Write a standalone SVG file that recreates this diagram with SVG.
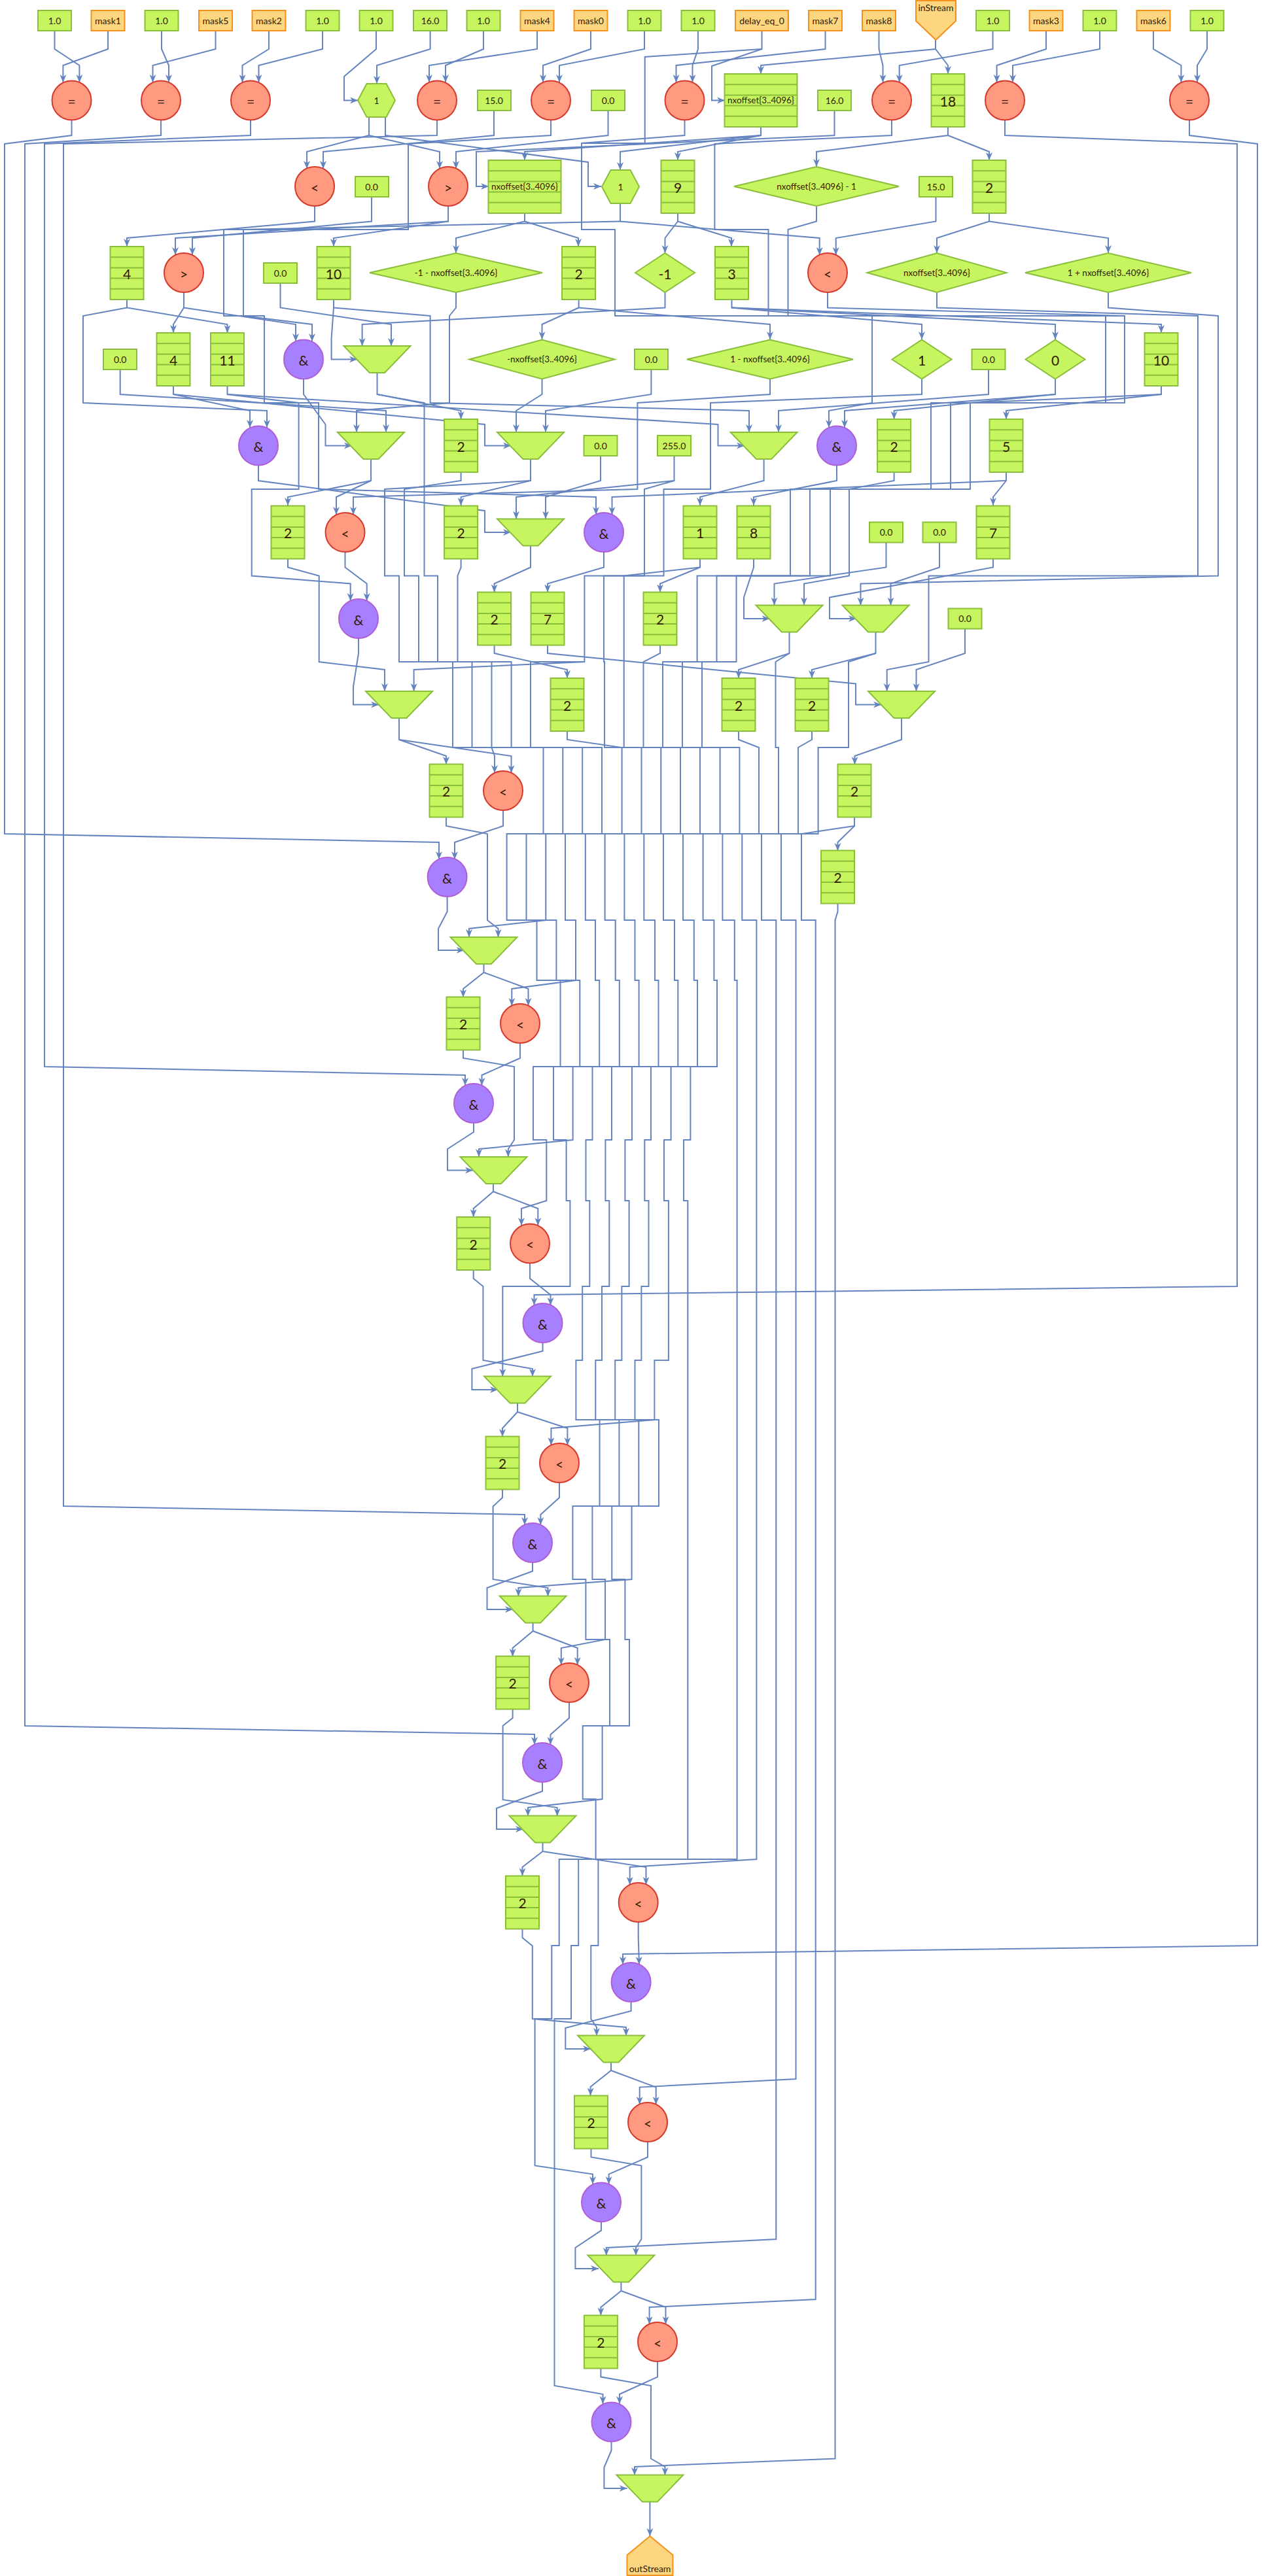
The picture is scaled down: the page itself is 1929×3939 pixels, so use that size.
<svg xmlns="http://www.w3.org/2000/svg" xmlns:xlink="http://www.w3.org/1999/xlink" width="1929" height="3939" viewBox="0 0 1929 3939">
<style>
.g{fill:#c7f55f;stroke:#8abd3c;stroke-width:2}
.o{fill:#ffd680;stroke:#f2911d;stroke-width:2}
.r{fill:#ff9a80;stroke:#d6392b;stroke-width:2}
.p{fill:#a680ff;stroke:#b05ed6;stroke-width:2}
.gl{fill:none;stroke:#8abd3c;stroke-width:2}
.e,.l{fill:none;stroke:#6484c0;stroke-width:2;stroke-linejoin:miter}
.e{marker-end:url(#a)}
text{font-family:"Lato","Liberation Sans",sans-serif;fill:#331a00;text-anchor:middle;dominant-baseline:central}
.s{font-size:14px}
.m{font-size:13.5px}
.b{font-size:21px}
.c{font-size:21px}
</style>
<defs>
<marker id="a" markerUnits="userSpaceOnUse" markerWidth="14" markerHeight="12" refX="12" refY="6" orient="auto"><path d="M0 1L12 6 0 11 3.5 6z" fill="#6484c0"/></marker>
<g id="tbl"><rect class="g" x="-25.5" y="-40.5" width="51" height="81"/><path class="gl" d="M-25.5-24.3h51M-25.5-8.1h51M-25.5 8.1h51M-25.5 24.3h51"/></g>
<g id="tblw"><rect class="g" x="-55.5" y="-40.5" width="111" height="81"/><path class="gl" d="M-55.5-24.3h111M-55.5-8.1h111M-55.5 8.1h111M-55.5 24.3h111"/></g>
<polygon id="mux" class="g" points="-51,-20.5 51,-20.5 11.5,20.5 -11.5,20.5"/>
<polygon id="hex" class="g" points="-28.5,0 -15,-25.5 15,-25.5 28.5,0 15,25.5 -15,25.5"/>
</defs>
<g id="connectors">
<path class="e" d="M83.5 47V75L121.4 100V126"/>
<path class="e" d="M165 47V75L96.4 100V126"/>
<path class="e" d="M247 47V75L258 100V126"/>
<path class="e" d="M329.5 47V75L233.5 100V126"/>
<path class="e" d="M411 47V75L370.5 100V126"/>
<path class="e" d="M493 47V75L395.5 100V126"/>
<path class="e" d="M575 47V75L526 117V153.5H547"/>
<path class="e" d="M657.6 47V75L576 100V128"/>
<path class="e" d="M739 47V75L681 100V126"/>
<path class="e" d="M821 47V75L656 100V126"/>
<path class="e" d="M903 47V75L830 100V126"/>
<path class="e" d="M985 47V75L855 100V126"/>
<path class="e" d="M1067 47V75L1058.5 100V126"/>
<path class="e" d="M1164.5 47V75L1088 101V153.5H1108"/>
<path class="l" d="M1164.5 75L985.7 87V219L889 219"/>
<path class="e" d="M1261.5 47V75L1033.5 100V126"/>
<path class="e" d="M1343.5 47V75L1349.5 100V126"/>
<path class="e" d="M1430 61V75L1163 100V113"/>
<path class="e" d="M1430 75L1449 100V113"/>
<path class="e" d="M1517.5 47V75L1374.7 100V126"/>
<path class="e" d="M1599 47V75L1523.6 100V126"/>
<path class="e" d="M1681 47V75L1548 100V126"/>
<path class="e" d="M1763 47V75L1805.4 100V126"/>
<path class="e" d="M1845 47V75L1830 100V126"/>
<path class="e" d="M109.5 184V207L7 220V1275L671 1288V1314"/>
<path class="e" d="M246 184V207L38 220V2639L817 2652V2668"/>
<path class="e" d="M383 184V207L68 220V1631L711 1644V1660"/>
<path class="e" d="M668 184V207L97 220V2303L802 2316V2332"/>
<path class="e" d="M842 184V207L624 220V351H342V483H404V616H487V748L911 760V787"/>
<path class="e" d="M1046.5 184V207L889 219V351H940V483H1333V616L1267 628V654"/>
<path class="e" d="M1363 184V207L1092.4 220V351H1174.5V483H1690V616H1423V748H1208V880.5H1065.6V1012H1013V1143H1070V1275H1014V1407H1031V1499H1036.3V1631H995V1743H985.3V1836H991.5V1967H980.4V2080H970.5V2171H1007V2303H965.6V2415L792.4 2428V2441"/>
<path class="e" d="M1248 315V338.5L1204.5 351V483H1719V616H1453V748H1238V880.5H1095.5V1012H1043V1143H1100.6V1275H1044V1407H1060.8V1499H1066V1631H1025.6V1743H1015V1836H1021.9V2080H1000.4V2171L842.4 2184V2210"/>
<path class="e" d="M1536 184V207L1891 220V1967L816.5 1980V1996"/>
<path class="e" d="M1818 184V207L1922 220V2975L952 2988V3004"/>
<path class="e" d="M755 169V207L494 232V258"/>
<path class="e" d="M564 179V207L469 232V258"/>
<path class="e" d="M564 207L672 232V258"/>
<path class="e" d="M589 179V207L899 248V285H919"/>
<path class="e" d="M929.5 169V207L697 232V258"/>
<path class="e" d="M1163 194V207L802 232V245"/>
<path class="e" d="M1163 207L948 232V260"/>
<path class="e" d="M1163 207L1036 232V245"/>
<path class="e" d="M1275.5 169V207L728 232V285H747"/>
<path class="e" d="M1449 194V207L1248 232V255"/>
<path class="e" d="M1449 207L1512 232V245"/>
<path class="e" d="M481 315V338.5L194 364V377"/>
<path class="e" d="M568 300.5V338.5L294 364V390"/>
<path class="e" d="M685 315V338.5L268 364V390"/>
<path class="e" d="M685 338.5L510 364V377"/>
<path class="e" d="M802 326V338.5L697 364V387"/>
<path class="e" d="M802 338.5L884 364V377"/>
<path class="e" d="M948 311V338.5L1252.7 364V390"/>
<path class="e" d="M948 338.5L372 351V483L477 496V522"/>
<path class="e" d="M1036 326V338.5L1016.5 364V387"/>
<path class="e" d="M1036 338.5L1118 364V377"/>
<path class="e" d="M1430.5 300.5V338.5L1277.7 364V390"/>
<path class="e" d="M1512 326V338.5L1432 364V387"/>
<path class="e" d="M1512 338.5L1694 364V387"/>
<path class="e" d="M194 458V470.5L347.5 496V509"/>
<path class="e" d="M194 470.5L127 483V616L408 628V654"/>
<path class="e" d="M281 447V470.5L265 496V509"/>
<path class="e" d="M281 470.5L452 496V522"/>
<path class="e" d="M428.5 432.5V470.5L598 496V529"/>
<path class="e" d="M510 458V470.5L506.6 517V549.5H546"/>
<path class="e" d="M510 470.5L657.6 483V616L1145 628V661"/>
<path class="e" d="M697 447V470.5L687 483V616L545 628V661"/>
<path class="e" d="M884.6 458V470.5L828.5 496V519"/>
<path class="e" d="M884.6 470.5L1177 496V519"/>
<path class="e" d="M1016.5 447V470.5L553.6 496V529"/>
<path class="e" d="M1118.5 458V470.5L1409 496V519"/>
<path class="e" d="M1118.5 470.5L1613 496V519"/>
<path class="e" d="M1118.5 470.5L1775 496V509"/>
<path class="l" d="M1265 447V470.5L1719 483"/>
<path class="e" d="M1432 447V470.5L1831 483V880.5H1419.5V1012L1355.7 1024V1057"/>
<path class="e" d="M1694 447V470.5L1862 483V880.5L1315.5 892.5V925.5"/>
<path class="e" d="M183.7 565V603L590 628V661"/>
<path class="e" d="M265 590V603L382 628V654"/>
<path class="e" d="M265 603L741 649V681.5H781"/>
<path class="e" d="M347.5 590V603L456.6 616V748H384.7V880.5L535.7 892.5V919"/>
<path class="e" d="M347.5 603L1097.5 649V681.5H1138"/>
<path class="e" d="M464 579.5V603L497.5 649V681.5H538"/>
<path class="e" d="M576.5 570V603L704.6 628V641"/>
<path class="e" d="M576.5 603L648.5 616V880.5H669V1012H751.5V1143L756 1156V1182"/>
<path class="e" d="M828.5 579.5V603L789 628V661"/>
<path class="e" d="M995.4 565V603L834 628V661"/>
<path class="e" d="M1177 579.5V603L974.4 616V748L540 760V787"/>
<path class="e" d="M1409 579.5V603L1086 616V748H1014.5V880.5H923V1012H924V1143H980.5V1275H924.6V1407H940.7V1499H946.8V1631H905.5V1743H895.5V1836H901.3V1967H890.2V2080H880.4V2171H916.5V2303H875.4V2415H895.4V2507H932V2639H890.7V2751H910.6V2843H854.7V2975H843.3V3087H817.6V3311.5L906 3324.6V3340"/>
<path class="e" d="M1511 565V603L1190 628V661"/>
<path class="e" d="M1613 579.5V603L1291 628V654"/>
<path class="e" d="M1613 603L1366.6 628V641"/>
<path class="e" d="M1775 590V603L1538 628V641"/>
<path class="e" d="M1775 603L1483 616V748H1269V880.5H1125.5V1012H1073V1143H1130.4V1275H1074.6V1407H1091.4V1499H1096V1631H1055.4V1743H1045V1836H1051.3V2843H884.2V2975H873V3087H847.5V3648L921.5 3661V3676"/>
<path class="e" d="M395 711.5V735L741 781V814H781"/>
<path class="e" d="M567 702V735L440 760V773"/>
<path class="e" d="M567 735L514 760V787"/>
<path class="e" d="M704.6 722V735L618 748V880.5H640V1012H721.5V1143H860.3V1275H804.5V1407H850.4V1499H886.3V1631H846V1743H865.6V1836H871.4V1967H768.3V2105"/>
<path class="e" d="M811 702V735L704.6 760V773"/>
<path class="e" d="M811 735L588 748V880.5H610V1012H692V1143H830.5V1275H774.6V1407H820.5V1499H856.5V1631H815V1743H835.3V1836L797 1848V1874"/>
<path class="e" d="M918 697V735L834 760V793.5"/>
<path class="e" d="M1030.5 697V735L789 760V793.5"/>
<path class="e" d="M1030.5 735L985 748V880.5H893.4V1012H811V1143H920V1275H864V1407H880V1499L782.3 1512V1538"/>
<path class="e" d="M893.4 1012L632.6 1024V1057"/>
<path class="e" d="M1167.6 702V735L1070 760V773"/>
<path class="e" d="M1279 711.5V735L1152 760V773"/>
<path class="e" d="M1366.6 722V735L1298 748V880.5L1229 892.5V925.5"/>
<path class="e" d="M1538 722V735L1518 760V773"/>
<path class="e" d="M1538 735L935.5 760V787"/>
<path class="e" d="M440 854.5V867.5L487.7 880.5V1012L588 1024V1057"/>
<path class="e" d="M527.5 844V867.5L560.7 892.5V919"/>
<path class="e" d="M704.6 854.5V867.5L699.5 880.5V1012H781.6V1143H890.2V1275H834.3V1407L717 1420V1433"/>
<path class="e" d="M811 834.5V867.5L755.6 892.5V905.5"/>
<path class="e" d="M923 844V867.5L837 892.5V905.5"/>
<path class="e" d="M1070 854.5V867.5L1009 892.5V905.5"/>
<path class="e" d="M1070 867.5L953 880.5H953.7V1143H1010.3V1275H954.4V1407H970.5V1499H976.6V1631H935V1743H925.4V1836H931.3V1967H920V2080H910.3V2171H946.4V2303H905.4V2415H925V2507L857.8 2520V2546"/>
<path class="e" d="M1152 854.5V867.5L1137 913.5V946H1176.5"/>
<path class="e" d="M1354.5 829.5V867.5L1183.5 892.5V925.5"/>
<path class="e" d="M1436 829.5V867.5L1361.5 892.5V925.5"/>
<path class="e" d="M1518 854.5V867.5L1268 913.5V946H1309"/>
<path class="e" d="M548 976V999L540 1050V1077.5H579"/>
<path class="e" d="M755.6 986.5V999L867 1024V1037"/>
<path class="e" d="M837 986.5V999L1308 1045.5V1077.5H1347"/>
<path class="e" d="M1009 986.5V999L983.5 1012V1143H1040V1275H984.3V1407H1001V1499H1006.5V1631H966V1743H955.4V1836H961.6V1967H950.4V2080H940.2V2171H976.3V2303H935.3V2415H955.4V2507H962V2639H920.6V2751L807 2764V2777"/>
<path class="e" d="M1206.5 966.5V999L1129 1024V1037"/>
<path class="e" d="M1206.5 999L1185.5 1012V1143H1190V1275H1134.3V1407H1156.4V2843L962.7 2855V2882"/>
<path class="e" d="M1338.5 966.5V999L1241 1024V1037"/>
<path class="e" d="M1338.5 999L1297 1012V1143H1250.6V1275H1194V1407H1216.5V3179L977.7 3191.6V3218"/>
<path class="e" d="M1475 961.5V999L1400.5 1024V1057"/>
<path class="e" d="M610 1098V1131L682 1156V1169"/>
<path class="e" d="M610 1131L781.5 1156V1182"/>
<path class="e" d="M867 1118V1131L950.6 1143V1275H894.8V1407H910V1499H916.2V1631H875.6V1743L732 1757V1769"/>
<path class="e" d="M1129 1118V1131L1160 1143V1275H1104.4V1407H1122.8V1499H1126.6V2843H914.4V2975H903.3V3087L912 3100V3113"/>
<path class="e" d="M1241 1118V1131L1220 1143V1275H1164V1407H1186.3V3424L926.8 3437V3449"/>
<path class="e" d="M1378 1098V1131L1306.5 1156V1169"/>
<path class="e" d="M682 1250V1263L745 1275V1407L761.5 1420V1433"/>
<path class="e" d="M769 1239V1263L695 1288V1314"/>
<path class="e" d="M1306 1250V1263L1280.5 1288V1301"/>
<path class="e" d="M1306 1263L1225 1275V1407H1246.7V3516L992.6 3528V3554"/>
<path class="e" d="M683.6 1371V1394L670 1420V1453H709.6"/>
<path class="e" d="M1280.5 1382V1394L1276.5 1407V3759.5L970 3772V3785"/>
<path class="e" d="M739.5 1474V1487L708 1512V1525"/>
<path class="e" d="M739.5 1487L807.5 1512V1538"/>
<path class="e" d="M708 1605.5V1618L786 1631V1743L776.8 1757V1769"/>
<path class="e" d="M795 1595V1618L736.5 1644V1660"/>
<path class="e" d="M724 1717V1731L684 1757V1789.5H723"/>
<path class="e" d="M754 1810V1822L723.7 1848V1861"/>
<path class="e" d="M754 1822L822.3 1848V1874"/>
<path class="e" d="M723.7 1942V1955L738.4 1967V2080L814 2093V2105"/>
<path class="e" d="M810 1931.5V1955L841.5 1980V1996"/>
<path class="e" d="M829.5 2053V2066L721.4 2093V2125H761"/>
<path class="e" d="M791 2145.5V2159L768 2184V2197"/>
<path class="e" d="M791 2159L867.4 2184V2210"/>
<path class="e" d="M768 2277.5V2290L753.6 2303.5V2415L837.5 2428V2441"/>
<path class="e" d="M855 2267V2290L826.3 2316V2332"/>
<path class="e" d="M814 2389V2402.5L744.5 2428V2461H784"/>
<path class="e" d="M814.6 2481V2494L783.6 2520V2533"/>
<path class="e" d="M814.6 2494L882.7 2520V2546"/>
<path class="e" d="M783.6 2613.5V2627L768.6 2639V2752L851.7 2764V2777"/>
<path class="e" d="M870 2603V2627L841.4 2652.5V2668"/>
<path class="e" d="M829 2725V2739L759 2765V2797H800"/>
<path class="e" d="M829.5 2817.5V2831L798.5 2855V2868.5"/>
<path class="e" d="M829.5 2831L987.5 2855V2882"/>
<path class="e" d="M798.5 2949.5V2963L813.8 2975.5V3087L957 3100V3113"/>
<path class="e" d="M975.7 2939V2963L977 3004"/>
<path class="e" d="M964.6 3061V3075L864.3 3101V3133H903"/>
<path class="e" d="M934 3153.5V3166L902.6 3191V3204.5"/>
<path class="e" d="M934 3166L1002.7 3191.6V3218"/>
<path class="e" d="M903.5 3285.5V3298.5L980.4 3311.5V3424L972 3437V3449"/>
<path class="e" d="M990 3275V3298.5L930.6 3324.6V3340"/>
<path class="e" d="M919 3397.4V3410.7L879.4 3437V3469H915"/>
<path class="e" d="M949.4 3489.5V3503L918.4 3528V3540.5"/>
<path class="e" d="M949.4 3503L1017.5 3528V3554"/>
<path class="e" d="M918.4 3621.5V3634.6L995 3648V3759.5L1016.5 3772V3785"/>
<path class="e" d="M1005 3611V3634.6L947 3661V3676"/>
<path class="e" d="M934.5 3733.6V3747L923.4 3773V3805H958.6"/>
<path class="e" d="M993.4 3825.5V3878"/>
</g>
<g id="n1"><rect class="g" x="58" y="16" width="51" height="31"/><text class="s" x="83.5" y="31">1.0</text></g>
<g id="n2"><rect class="o" x="139.5" y="16" width="51" height="31"/><text class="s" x="165" y="31">mask1</text></g>
<g id="n3"><rect class="g" x="221.5" y="16" width="51" height="31"/><text class="s" x="247" y="31">1.0</text></g>
<g id="n4"><rect class="o" x="304" y="16" width="51" height="31"/><text class="s" x="329.5" y="31">mask5</text></g>
<g id="n5"><rect class="o" x="385.5" y="16" width="51" height="31"/><text class="s" x="411" y="31">mask2</text></g>
<g id="n6"><rect class="g" x="467.5" y="16" width="51" height="31"/><text class="s" x="493" y="31">1.0</text></g>
<g id="n7"><rect class="g" x="549.5" y="16" width="51" height="31"/><text class="s" x="575" y="31">1.0</text></g>
<g id="n8"><rect class="g" x="632" y="16" width="51" height="31"/><text class="s" x="657.6" y="31">16.0</text></g>
<g id="n9"><rect class="g" x="713.5" y="16" width="51" height="31"/><text class="s" x="739" y="31">1.0</text></g>
<g id="n10"><rect class="o" x="795.5" y="16" width="51" height="31"/><text class="s" x="821" y="31">mask4</text></g>
<g id="n11"><rect class="o" x="877.5" y="16" width="51" height="31"/><text class="s" x="903" y="31">mask0</text></g>
<g id="n12"><rect class="g" x="959.5" y="16" width="51" height="31"/><text class="s" x="985" y="31">1.0</text></g>
<g id="n13"><rect class="g" x="1041.5" y="16" width="51" height="31"/><text class="s" x="1067" y="31">1.0</text></g>
<g id="n14"><rect class="o" x="1124" y="16" width="81" height="31"/><text class="s" x="1164.5" y="31">delay_eq_0</text></g>
<g id="n15"><rect class="o" x="1236" y="16" width="51" height="31"/><text class="s" x="1261.5" y="31">mask7</text></g>
<g id="n16"><rect class="o" x="1318" y="16" width="51" height="31"/><text class="s" x="1343.5" y="31">mask8</text></g>
<g id="n17"><polygon class="o" points="1400,1 1461,1 1461,32 1430.5,61 1400,32"/><text class="s" x="1430.5" y="11">inStream</text></g>
<g id="n18"><rect class="g" x="1492" y="16" width="51" height="31"/><text class="s" x="1517.5" y="31">1.0</text></g>
<g id="n19"><rect class="o" x="1573.5" y="16" width="51" height="31"/><text class="s" x="1599" y="31">mask3</text></g>
<g id="n20"><rect class="g" x="1655.5" y="16" width="51" height="31"/><text class="s" x="1681" y="31">1.0</text></g>
<g id="n21"><rect class="o" x="1737.5" y="16" width="51" height="31"/><text class="s" x="1763" y="31">mask6</text></g>
<g id="n22"><rect class="g" x="1819.5" y="16" width="51" height="31"/><text class="s" x="1845" y="31">1.0</text></g>
<g id="n23"><circle class="r" cx="109.5" cy="153.5" r="30"/><text class="c" x="109.5" y="154">=</text></g>
<g id="n24"><circle class="r" cx="246" cy="153.5" r="30"/><text class="c" x="246" y="154">=</text></g>
<g id="n25"><circle class="r" cx="383" cy="153.5" r="30"/><text class="c" x="383" y="154">=</text></g>
<g id="n26"><use href="#hex" x="575.5" y="153.5"/><text class="s" x="575.5" y="153">1</text></g>
<g id="n27"><circle class="r" cx="668" cy="153.5" r="30"/><text class="c" x="668" y="154">=</text></g>
<g id="n28"><rect class="g" x="730" y="138" width="51" height="31"/><text class="s" x="755" y="153">15.0</text></g>
<g id="n29"><circle class="r" cx="842" cy="153.5" r="30"/><text class="c" x="842" y="154">=</text></g>
<g id="n30"><rect class="g" x="904" y="138" width="51" height="31"/><text class="s" x="929.5" y="153">0.0</text></g>
<g id="n31"><circle class="r" cx="1046.5" cy="153.5" r="30"/><text class="c" x="1046.5" y="154">=</text></g>
<g id="n32"><use href="#tblw" x="1163" y="153.5"/><text class="m" x="1163" y="153">nxoffset{3..4096}</text></g>
<g id="n33"><rect class="g" x="1250" y="138" width="51" height="31"/><text class="s" x="1275.5" y="153">16.0</text></g>
<g id="n34"><circle class="r" cx="1363" cy="153.5" r="30"/><text class="c" x="1363" y="154">=</text></g>
<g id="n35"><use href="#tbl" x="1449" y="153.5"/><text class="b" x="1449" y="154">18</text></g>
<g id="n36"><circle class="r" cx="1536" cy="153.5" r="30"/><text class="c" x="1536" y="154">=</text></g>
<g id="n37"><circle class="r" cx="1818" cy="153.5" r="30"/><text class="c" x="1818" y="154">=</text></g>
<g id="n38"><circle class="r" cx="481" cy="285" r="30"/><text class="c" x="481" y="286">&lt;</text></g>
<g id="n39"><rect class="g" x="543" y="270" width="51" height="31"/><text class="s" x="568" y="285">0.0</text></g>
<g id="n40"><circle class="r" cx="685" cy="285" r="30"/><text class="c" x="685" y="286">&gt;</text></g>
<g id="n41"><use href="#tblw" x="802" y="285.5"/><text class="m" x="802" y="285">nxoffset{3..4096}</text></g>
<g id="n42"><use href="#hex" x="948.5" y="285.5"/><text class="s" x="948.5" y="285">1</text></g>
<g id="n43"><use href="#tbl" x="1036" y="285.5"/><text class="b" x="1036" y="286">9</text></g>
<g id="n44"><polygon class="g" points="1122,285 1248,255 1374,285 1248,315"/><text class="m" x="1248" y="285">nxoffset{3..4096} - 1</text></g>
<g id="n45"><rect class="g" x="1405" y="270" width="51" height="31"/><text class="s" x="1430.5" y="285">15.0</text></g>
<g id="n46"><use href="#tbl" x="1512" y="285.5"/><text class="b" x="1512" y="286">2</text></g>
<g id="n47"><use href="#tbl" x="194" y="417.5"/><text class="b" x="194" y="418">4</text></g>
<g id="n48"><circle class="r" cx="281" cy="417" r="30"/><text class="c" x="281" y="418">&gt;</text></g>
<g id="n49"><rect class="g" x="403" y="402" width="51" height="31"/><text class="s" x="428.5" y="417">0.0</text></g>
<g id="n50"><use href="#tbl" x="510" y="417.5"/><text class="b" x="510" y="418">10</text></g>
<g id="n51"><polygon class="g" points="565,417 697,387 829,417 697,447"/><text class="m" x="697" y="417">-1 - nxoffset{3..4096}</text></g>
<g id="n52"><use href="#tbl" x="884.5" y="417.5"/><text class="b" x="884.5" y="418">2</text></g>
<g id="n53"><polygon class="g" points="971,417 1016.5,387 1062,417 1016.5,447"/><text class="b" x="1016.5" y="418">-1</text></g>
<g id="n54"><use href="#tbl" x="1118.5" y="417.5"/><text class="b" x="1118.5" y="418">3</text></g>
<g id="n55"><circle class="r" cx="1265" cy="417" r="30"/><text class="c" x="1265" y="418">&lt;</text></g>
<g id="n56"><polygon class="g" points="1325.5,417 1432,387 1538.5,417 1432,447"/><text class="m" x="1432" y="417">nxoffset{3..4096}</text></g>
<g id="n57"><polygon class="g" points="1567,417 1694,387 1821,417 1694,447"/><text class="m" x="1694" y="417">1 + nxoffset{3..4096}</text></g>
<g id="n58"><rect class="g" x="158" y="534" width="51" height="31"/><text class="s" x="183.7" y="549">0.0</text></g>
<g id="n59"><use href="#tbl" x="265" y="549.5"/><text class="b" x="265" y="550">4</text></g>
<g id="n60"><use href="#tbl" x="347.5" y="549.5"/><text class="b" x="347.5" y="550">11</text></g>
<g id="n61"><circle class="p" cx="464" cy="549.5" r="30"/><text class="c" x="464" y="550">&amp;</text></g>
<g id="n62"><use href="#mux" x="576.5" y="549.5"/></g>
<g id="n63"><polygon class="g" points="717.5,549.5 828.5,519.5 939.5,549.5 828.5,579.5"/><text class="m" x="828.5" y="549">-nxoffset{3..4096}</text></g>
<g id="n64"><rect class="g" x="970" y="534" width="51" height="31"/><text class="s" x="995.4" y="549">0.0</text></g>
<g id="n65"><polygon class="g" points="1050,549.5 1177,519.5 1304,549.5 1177,579.5"/><text class="m" x="1177" y="549">1 - nxoffset{3..4096}</text></g>
<g id="n66"><polygon class="g" points="1363.5,549.5 1409,519.5 1454.5,549.5 1409,579.5"/><text class="b" x="1409" y="550">1</text></g>
<g id="n67"><rect class="g" x="1485.5" y="534" width="51" height="31"/><text class="s" x="1511" y="549">0.0</text></g>
<g id="n68"><polygon class="g" points="1567.5,549.5 1613,519.5 1658.5,549.5 1613,579.5"/><text class="b" x="1613" y="550">0</text></g>
<g id="n69"><use href="#tbl" x="1775" y="549.5"/><text class="b" x="1775" y="550">10</text></g>
<g id="n70"><circle class="p" cx="395" cy="681.5" r="30"/><text class="c" x="395" y="682">&amp;</text></g>
<g id="n71"><use href="#mux" x="567" y="681.5"/></g>
<g id="n72"><use href="#tbl" x="704.6" y="681.5"/><text class="b" x="704.6" y="682">2</text></g>
<g id="n73"><use href="#mux" x="811" y="681.5"/></g>
<g id="n74"><rect class="g" x="892.5" y="666" width="51" height="31"/><text class="s" x="918" y="681">0.0</text></g>
<g id="n75"><rect class="g" x="1005" y="666" width="51" height="31"/><text class="s" x="1030.5" y="681">255.0</text></g>
<g id="n76"><use href="#mux" x="1167.6" y="681.5"/></g>
<g id="n77"><circle class="p" cx="1279" cy="681.5" r="30"/><text class="c" x="1279" y="682">&amp;</text></g>
<g id="n78"><use href="#tbl" x="1366.6" y="681.5"/><text class="b" x="1366.6" y="682">2</text></g>
<g id="n79"><use href="#tbl" x="1538" y="681.5"/><text class="b" x="1538" y="682">5</text></g>
<g id="n80"><use href="#tbl" x="440" y="814"/><text class="b" x="440" y="814.5">2</text></g>
<g id="n81"><circle class="r" cx="527.5" cy="814" r="30"/><text class="c" x="527.5" y="815">&lt;</text></g>
<g id="n82"><use href="#tbl" x="704.6" y="814"/><text class="b" x="704.6" y="814.5">2</text></g>
<g id="n83"><use href="#mux" x="811" y="814"/></g>
<g id="n84"><circle class="p" cx="923" cy="814" r="30"/><text class="c" x="923" y="815">&amp;</text></g>
<g id="n85"><use href="#tbl" x="1070" y="814"/><text class="b" x="1070" y="814.5">1</text></g>
<g id="n86"><use href="#tbl" x="1152" y="814"/><text class="b" x="1152" y="814.5">8</text></g>
<g id="n87"><rect class="g" x="1329" y="798.5" width="51" height="31"/><text class="s" x="1354.5" y="813.5">0.0</text></g>
<g id="n88"><rect class="g" x="1410.5" y="798.5" width="51" height="31"/><text class="s" x="1436" y="813.5">0.0</text></g>
<g id="n89"><use href="#tbl" x="1518" y="814"/><text class="b" x="1518" y="814.5">7</text></g>
<g id="n90"><circle class="p" cx="548" cy="946" r="30"/><text class="c" x="548" y="947">&amp;</text></g>
<g id="n91"><use href="#tbl" x="755.6" y="946"/><text class="b" x="755.6" y="946.5">2</text></g>
<g id="n92"><use href="#tbl" x="837" y="946"/><text class="b" x="837" y="946.5">7</text></g>
<g id="n93"><use href="#tbl" x="1009" y="946"/><text class="b" x="1009" y="946.5">2</text></g>
<g id="n94"><use href="#mux" x="1206.5" y="946"/></g>
<g id="n95"><use href="#mux" x="1338.5" y="946"/></g>
<g id="n96"><rect class="g" x="1449.5" y="930.5" width="51" height="31"/><text class="s" x="1475" y="945.5">0.0</text></g>
<g id="n97"><use href="#mux" x="610" y="1077.5"/></g>
<g id="n98"><use href="#tbl" x="867" y="1077.5"/><text class="b" x="867" y="1078">2</text></g>
<g id="n99"><use href="#tbl" x="1129" y="1077.5"/><text class="b" x="1129" y="1078">2</text></g>
<g id="n100"><use href="#tbl" x="1241" y="1077.5"/><text class="b" x="1241" y="1078">2</text></g>
<g id="n101"><use href="#mux" x="1378" y="1077.5"/></g>
<g id="n102"><use href="#tbl" x="682" y="1209"/><text class="b" x="682" y="1209.5">2</text></g>
<g id="n103"><circle class="r" cx="769" cy="1209" r="30"/><text class="c" x="769" y="1210">&lt;</text></g>
<g id="n104"><use href="#tbl" x="1306" y="1209"/><text class="b" x="1306" y="1209.5">2</text></g>
<g id="n105"><circle class="p" cx="683.6" cy="1341" r="30"/><text class="c" x="683.6" y="1342">&amp;</text></g>
<g id="n106"><use href="#tbl" x="1280.5" y="1341"/><text class="b" x="1280.5" y="1341.5">2</text></g>
<g id="n107"><use href="#mux" x="739.5" y="1453.5"/></g>
<g id="n108"><use href="#tbl" x="708" y="1565"/><text class="b" x="708" y="1565.5">2</text></g>
<g id="n109"><circle class="r" cx="795" cy="1565" r="30"/><text class="c" x="795" y="1566">&lt;</text></g>
<g id="n110"><circle class="p" cx="724" cy="1687" r="30"/><text class="c" x="724" y="1688">&amp;</text></g>
<g id="n111"><use href="#mux" x="754.5" y="1789.5"/></g>
<g id="n112"><use href="#tbl" x="723.7" y="1901.5"/><text class="b" x="723.7" y="1902">2</text></g>
<g id="n113"><circle class="r" cx="810" cy="1901.5" r="30"/><text class="c" x="810" y="1902.5">&lt;</text></g>
<g id="n114"><circle class="p" cx="829.5" cy="2023" r="30"/><text class="c" x="829.5" y="2024">&amp;</text></g>
<g id="n115"><use href="#mux" x="791" y="2125"/></g>
<g id="n116"><use href="#tbl" x="768" y="2237"/><text class="b" x="768" y="2237.5">2</text></g>
<g id="n117"><circle class="r" cx="855" cy="2237" r="30"/><text class="c" x="855" y="2238">&lt;</text></g>
<g id="n118"><circle class="p" cx="814" cy="2359" r="30"/><text class="c" x="814" y="2360">&amp;</text></g>
<g id="n119"><use href="#mux" x="814.6" y="2461"/></g>
<g id="n120"><use href="#tbl" x="783.6" y="2573"/><text class="b" x="783.6" y="2573.5">2</text></g>
<g id="n121"><circle class="r" cx="870" cy="2573" r="30"/><text class="c" x="870" y="2574">&lt;</text></g>
<g id="n122"><circle class="p" cx="829" cy="2695" r="30"/><text class="c" x="829" y="2696">&amp;</text></g>
<g id="n123"><use href="#mux" x="829.5" y="2797"/></g>
<g id="n124"><use href="#tbl" x="798.5" y="2909"/><text class="b" x="798.5" y="2909.5">2</text></g>
<g id="n125"><circle class="r" cx="975.7" cy="2909" r="30"/><text class="c" x="975.7" y="2910">&lt;</text></g>
<g id="n126"><circle class="p" cx="964.6" cy="3031" r="30"/><text class="c" x="964.6" y="3032">&amp;</text></g>
<g id="n127"><use href="#mux" x="934" y="3133"/></g>
<g id="n128"><use href="#tbl" x="903.5" y="3245"/><text class="b" x="903.5" y="3245.5">2</text></g>
<g id="n129"><circle class="r" cx="990" cy="3245" r="30"/><text class="c" x="990" y="3246">&lt;</text></g>
<g id="n130"><circle class="p" cx="919" cy="3367.4" r="30"/><text class="c" x="919" y="3368">&amp;</text></g>
<g id="n131"><use href="#mux" x="949.4" y="3469"/></g>
<g id="n132"><use href="#tbl" x="918.4" y="3581"/><text class="b" x="918.4" y="3581.5">2</text></g>
<g id="n133"><circle class="r" cx="1005" cy="3581" r="30"/><text class="c" x="1005" y="3582">&lt;</text></g>
<g id="n134"><circle class="p" cx="934.5" cy="3703.6" r="30"/><text class="c" x="934.5" y="3704">&amp;</text></g>
<g id="n135"><use href="#mux" x="993.4" y="3805"/></g>
<g id="n136"><polygon class="o" points="993.5,3878 1028.5,3907 1028.5,3938 958.5,3938 958.5,3907"/><text class="s" x="993.5" y="3927">outStream</text></g>
</svg>
